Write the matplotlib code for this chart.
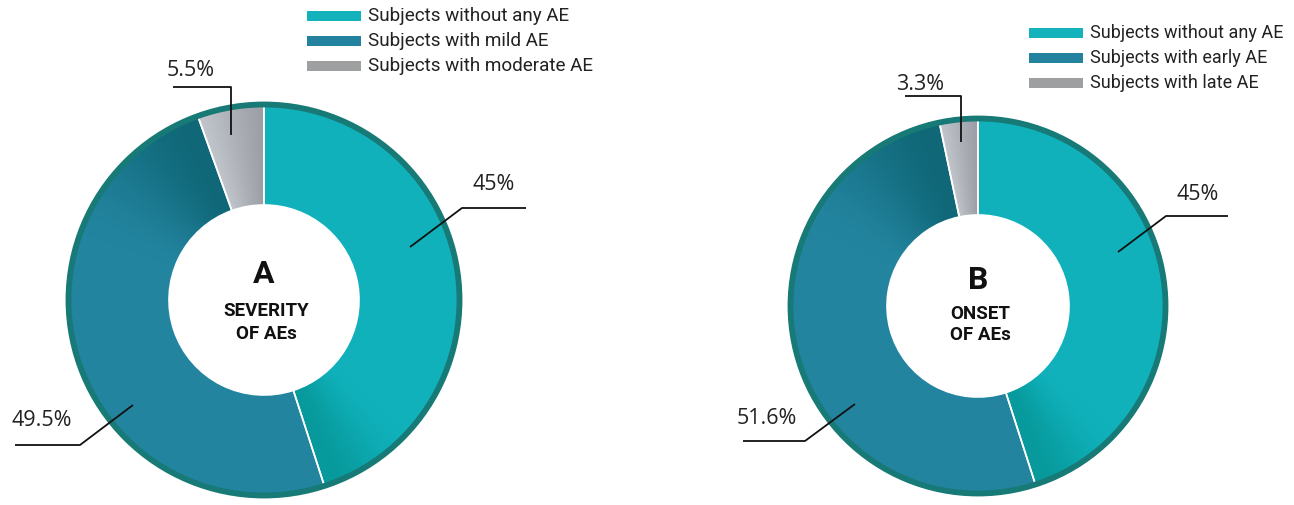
import numpy as np
import matplotlib.pyplot as plt
from matplotlib.colors import to_rgb
from matplotlib.patches import Circle, Rectangle

# ------------------------------------------------------------
# Data
# ------------------------------------------------------------

labels_a = ["Subjects without any AE", "Subjects with mild AE", "Subjects with moderate AE"]
shares_a = [45.0, 49.5, 5.5]

labels_b = ["Subjects without any AE", "Subjects with early AE", "Subjects with late AE"]
shares_b = [45.0, 51.6, 3.3]

slice_colors = ["#10b1bb", "#23849f", "#c1c5cc"]
slice_shadows = ["#07999b", "#0f6777", "#9a9da3"]
legend_colors = ["#14b2bb", "#23839e", "#9e9fa1"]
rim_color = "#177a76"

# fraction along each slice (clockwise) where the shadow sweep begins
shade_start = [0.82, 0.72, 0.0]

# ------------------------------------------------------------
# Canvas in pixel units (y measured from the top)
# ------------------------------------------------------------

W, H = 1294, 505
fig = plt.figure(figsize=(W / 100, H / 100), dpi=100)
ax = fig.add_axes([0, 0, 1, 1])


def Y(y):
    return H - y


label_font = "Open Sans"
legend_font = "Roboto"
title_font = ["Liberation Sans Narrow", "Roboto", "DejaVu Sans"]


def shade_wedge(wedge, cx, cy, r, base, shadow, start):
    """Fill a wedge with a sweep from base to shadow towards its clockwise end."""
    n = 400
    xs = np.linspace(cx - r, cx + r, n)
    ys = np.linspace(cy - r, cy + r, n)
    gx, gy = np.meshgrid(xs, ys)
    theta = np.degrees(np.arctan2(gy - cy, gx - cx))
    span = wedge.theta2 - wedge.theta1
    t = np.clip(np.mod(wedge.theta2 - theta, 360) / span, 0, 1)
    s = np.clip((t - start) / (1 - start), 0, 1)
    if start > 0:
        s = s * s * (3 - 2 * s)
    base = np.array(base)
    shadow = np.array(shadow)
    img = base[None, None, :] * (1 - s[..., None]) + shadow[None, None, :] * s[..., None]
    im = ax.imshow(img, extent=(cx - r, cx + r, cy - r, cy + r),
                   origin="lower", interpolation="bilinear", zorder=1)
    im.set_clip_path(wedge)


def donut(cx, cy, r, hole, shares, letter, title, title_y, legend_x, legend_y,
          legend_labels, legend_size, callouts):
    wedges, _ = ax.pie(
        shares,
        center=(cx, Y(cy)),
        radius=r,
        startangle=90,
        counterclock=False,
        colors=slice_colors,
        wedgeprops=dict(width=r - hole, edgecolor="white", linewidth=1.2),
        frame=True,
    )
    for i, w in enumerate(wedges):
        shade_wedge(w, cx, Y(cy), r, to_rgb(slice_colors[i]),
                    to_rgb(slice_shadows[i]), shade_start[i])
        w.set_facecolor("none")
        w.set_zorder(2)

    # dark rim around the ring
    ax.add_patch(Circle((cx, Y(cy)), r - 2.5, fill=False, ec=rim_color,
                        lw=4.2, zorder=3))

    # centre caption
    ax.text(cx, Y(cy - 26), letter, ha="center", va="center",
            fontsize=23, fontweight="bold", family=title_font, color="#111111")
    for i, line in enumerate(title):
        ax.text(cx + 2, Y(title_y[i]), line, ha="center", va="center",
                fontsize=13.5, fontweight="bold", family=title_font,
                color="#111111")

    # legend
    for i, (name, col) in enumerate(zip(legend_labels, legend_colors)):
        ty = legend_y + i * 25
        ax.add_patch(Rectangle((legend_x, Y(ty + 5)), 54, 10, color=col, lw=0))
        ax.text(legend_x + 61, Y(ty), name, ha="left", va="center",
                fontsize=legend_size, family=legend_font, color="#222222")

    # call-out labels with leader lines
    for value, (tx, ty), pts in callouts:
        xs = [p[0] for p in pts]
        ys = [Y(p[1]) for p in pts]
        ax.plot(xs, ys, color="#111111", lw=1.3, zorder=4,
                solid_capstyle="butt")
        ax.text(tx, Y(ty), f"{value:g}%", ha="center", va="center",
                fontsize=15.5, family=label_font, color="#222222")


donut(
    264, 300, 198, 95, shares_a, "A", ["SEVERITY", "OF AEs"], [311, 334],
    307, 16, labels_a, 13.6,
    [
        (shares_a[0], (494, 185), [(410, 247), (462, 208), (526, 208)]),
        (shares_a[1], (42, 421), [(133, 405), (80, 445), (15, 445)]),
        (shares_a[2], (191, 70), [(173, 87), (231, 87), (231, 135)]),
    ],
)

donut(
    978, 306, 190, 91, shares_b, "B", ["ONSET", "OF AEs"], [314, 335],
    1029, 33, labels_b, 13.0,
    [
        (shares_b[0], (1198, 195), [(1118, 252), (1166, 216), (1228, 216)]),
        (shares_b[1], (767, 419), [(855, 404), (805, 441), (743, 441)]),
        (shares_b[2], (920, 84), [(905, 96), (961, 96), (961, 142)]),
    ],
)

ax.set_xlim(0, W)
ax.set_ylim(0, H)
ax.set_aspect("equal")
ax.axis("off")

fig.savefig("out.png", dpi=100, facecolor="white")
